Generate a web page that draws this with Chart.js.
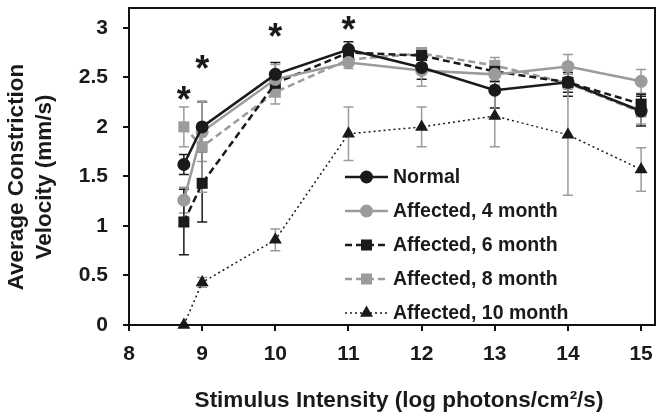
<!DOCTYPE html>
<html><head><meta charset="utf-8">
<script src="https://cdn.jsdelivr.net/npm/chart.js@4"></script>
<style>html,body{margin:0;padding:0;background:#fff}#wrap{width:664px;height:420px;position:relative}</style>
</head><body><div id="wrap"><canvas id="c" width="664" height="420"></canvas></div>
<script>
// ---- data ----
const intensity = [8.75, 9, 10, 11, 12, 13, 14, 15];
const normal    = [1.62, 2.00, 2.53, 2.78, 2.60, 2.37, 2.45, 2.16];
const aff4      = [1.26, 1.95, 2.48, 2.65, 2.57, 2.53, 2.61, 2.46];
const aff6      = [1.04, 1.43, 2.44, 2.75, 2.72, 2.56, 2.45, 2.23];
const aff8      = [2.00, 1.80, 2.35, 2.68, 2.74, 2.62, 2.44, 2.15];
const aff10     = [0.00, 0.43, 0.86, 1.93, 2.00, 2.11, 1.92, 1.57];
const errNormal = [0.10, 0.25, 0.12, 0.08, 0.12, 0.18, 0.14, 0.15];
const err4      = [0.13, 0.30, 0.15, 0.06, 0.16, 0.08, 0.12, 0.12];
const err6      = [0.33, 0.39, 0.10, 0.05, 0.08, 0.10, 0.10, 0.10];
const err8      = [0.20, 0.46, 0.12, 0.06, 0.06, 0.08, 0.06, 0.12];
const err10     = [0.00, 0.05, 0.11, 0.27, 0.20, 0.31, 0.61, 0.22];
const seriesNames = ['Normal', 'Affected, 4 month', 'Affected, 6 month', 'Affected, 8 month', 'Affected, 10 month'];
const xTicks = [8, 9, 10, 11, 12, 13, 14, 15];
const yTicks = [0, 0.5, 1, 1.5, 2, 2.5, 3];
const starX = [8.75, 9, 10, 11];
const starY = [2.34, 2.65, 2.98, 3.05];
const xTitle = 'Stimulus Intensity (log photons/cm\u00B2/s)';
const yTitle = ['Average Constriction', 'Velocity (mm/s)'];

// ---- styles ----
const FONT = '"Liberation Sans", Arial, Helvetica, sans-serif';
const INK = '#1a1a1a';
const GRAY = '#9b9b9b';
const FRAME = '#111111';

function pts(vals){ return intensity.map((x,i)=>({x:x, y:vals[i]})); }

const styles = [
  {color:INK,  dash:[], width:2.5, point:'circle', r:6.5, err:errNormal, errColor:INK},
  {color:GRAY, dash:[], width:2.5, point:'circle', r:6.5, err:err4, errColor:GRAY},
  {color:INK,  dash:[7,4], width:2.5, point:'rect', r:7.8, err:err6, errColor:INK},
  {color:GRAY, dash:[7,4], width:2.5, point:'rect', r:7.8, err:err8, errColor:GRAY},
  {color:INK,  dash:[2,3], width:1.5, point:'triangle', r:7.5, err:err10, errColor:GRAY}
];
const values = [normal, aff4, aff6, aff8, aff10];

const datasets = values.map((v,i)=>({
  label: seriesNames[i],
  data: pts(v),
  borderColor: styles[i].color,
  backgroundColor: styles[i].color,
  borderWidth: styles[i].width,
  borderDash: styles[i].dash,
  pointStyle: styles[i].point,
  pointRadius: styles[i].r,
  pointBorderWidth: 0,
  pointBackgroundColor: styles[i].color,
  pointBorderColor: styles[i].color,
  tension: 0,
  clip: false
}));

const custom = {
  id: 'custom',
  beforeDatasetsDraw(chart){
    const ctx = chart.ctx, xs = chart.scales.x, ys = chart.scales.y;
    styles.forEach((st,k)=>{
      ctx.save();
      ctx.setLineDash([]);
      ctx.strokeStyle = st.errColor; ctx.lineWidth = 1.5;
      ctx.beginPath();
      values[k].forEach((val,i)=>{
        const e = st.err[i]; if (!e) return;
        const px = xs.getPixelForValue(intensity[i]);
        const y1 = ys.getPixelForValue(val + e), y2 = ys.getPixelForValue(val - e);
        ctx.moveTo(px, y1); ctx.lineTo(px, y2);
        ctx.moveTo(px-5, y1); ctx.lineTo(px+5, y1);
        ctx.moveTo(px-5, y2); ctx.lineTo(px+5, y2);
      });
      ctx.stroke();
      ctx.restore();
    });
  },
  afterDraw(chart){
    const ctx = chart.ctx, xs = chart.scales.x, ys = chart.scales.y, a = chart.chartArea;
    // frame and tick marks
    const L = Math.round(a.left), T = Math.round(a.top), R = Math.round(a.right), B = Math.round(a.bottom);
    ctx.save();
    ctx.fillStyle = FRAME;
    ctx.fillRect(L - 1, T - 1, R - L + 2, 2);
    ctx.fillRect(L - 1, B - 1, R - L + 2, 2);
    ctx.fillRect(L - 1, T - 1, 2, B - T + 2);
    ctx.fillRect(R - 1, T - 1, 2, B - T + 2);
    xTicks.forEach(v=>{ const px = Math.round(xs.getPixelForValue(v)); ctx.fillRect(px - 1, B, 2, 6); });
    yTicks.forEach(v=>{ const py = Math.round(ys.getPixelForValue(v)); ctx.fillRect(L - 6, py - 1, 6, 2); });
    ctx.restore();
    // asterisks
    ctx.save();
    ctx.fillStyle = INK;
    ctx.font = 'bold 36px ' + FONT;
    ctx.textAlign = 'center'; ctx.textBaseline = 'alphabetic';
    const m = ctx.measureText('*');
    const off = (m.actualBoundingBoxAscent - m.actualBoundingBoxDescent) / 2;
    starX.forEach((x,i)=>{
      ctx.fillText('*', xs.getPixelForValue(x), ys.getPixelForValue(starY[i]) + off);
    });
    ctx.restore();
    // legend
    const lx0 = 345, lx1 = 388, tx = 393, ly0 = 177, step = 34;
    styles.forEach((st,i)=>{
      const y = ly0 + i*step;
      ctx.save();
      ctx.strokeStyle = st.color; ctx.lineWidth = st.width;
      ctx.setLineDash(st.dash);
      ctx.beginPath(); ctx.moveTo(lx0, y); ctx.lineTo(lx1, y); ctx.stroke();
      ctx.setLineDash([]);
      ctx.fillStyle = st.color; ctx.strokeStyle = st.color;
      Chart.helpers.drawPoint(ctx, {pointStyle: st.point, radius: st.r, rotation: 0, borderWidth: 0}, (lx0+lx1)/2, y);
      ctx.fillStyle = INK;
      ctx.font = 'bold 19.5px ' + FONT;
      ctx.textAlign = 'left'; ctx.textBaseline = 'middle';
      ctx.fillText(seriesNames[i], tx, y + 1);
      ctx.restore();
    });
    // axis titles
    ctx.save();
    ctx.fillStyle = INK;
    ctx.font = 'bold 22.5px ' + FONT;
    ctx.textAlign = 'center'; ctx.textBaseline = 'alphabetic';
    ctx.fillText(xTitle, 399, 407);
    ctx.textBaseline = 'middle';
    [17, 45].forEach((x,i)=>{
      ctx.save(); ctx.translate(x, 177); ctx.rotate(-Math.PI/2);
      ctx.fillText(yTitle[i], 0, 0); ctx.restore();
    });
    ctx.restore();
  }
};

new Chart(document.getElementById('c'), {
  type: 'line',
  data: { datasets },
  options: {
    responsive: false,
    animation: false,
    layout: { padding: { top: 8, right: 9, left: 0, bottom: 0 } },
    plugins: { legend: { display: false }, tooltip: { enabled: false } },
    elements: { line: { fill: false } },
    scales: {
      x: {
        type: 'linear', min: 8, max: 15.19,
        afterBuildTicks: s => { s.ticks = xTicks.map(v=>({value:v})); },
        afterFit: s => { s.height = 95; s.paddingLeft = 0; s.paddingRight = 0; },
        grid: { display: false },
        border: { display: false },
        ticks: { color: INK, font: { family: FONT, size: 21, weight: 'bold' }, padding: 9, maxRotation: 0, callback: v => String(v) }
      },
      y: {
        type: 'linear', min: 0, max: 3.2,
        afterBuildTicks: s => { s.ticks = yTicks.map(v=>({value:v})); },
        afterFit: s => { s.width = 129; s.paddingTop = 0; s.paddingBottom = 0; },
        grid: { display: false },
        border: { display: false },
        ticks: { color: INK, font: { family: FONT, size: 21, weight: 'bold' }, padding: 13, callback: v => String(v) }
      }
    }
  },
  plugins: [custom]
});
</script></body></html>
